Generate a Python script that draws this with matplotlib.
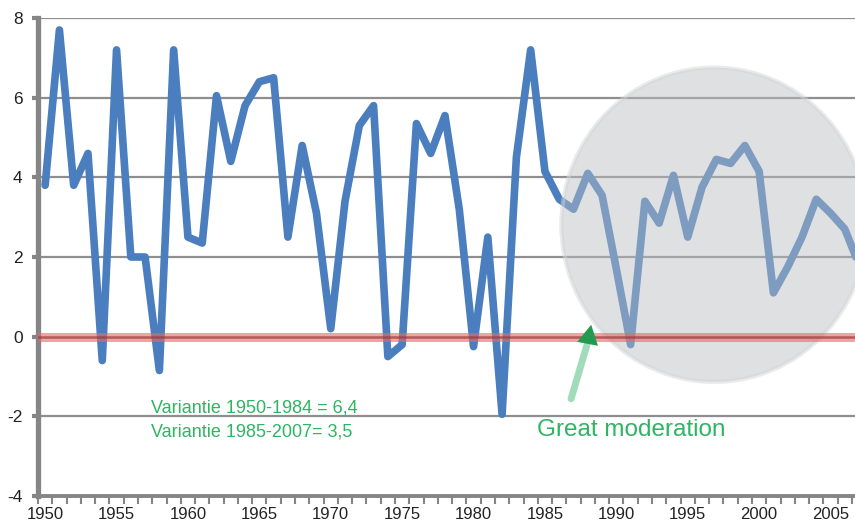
import numpy as np
import matplotlib
matplotlib.use("Agg")
import matplotlib.pyplot as plt
from matplotlib.patches import Ellipse
from matplotlib.ticker import FixedLocator

plt.rcParams['font.family'] = ['Liberation Sans', 'DejaVu Sans']

years = np.arange(1950, 2008)
growth = [3.8, 7.7, 3.8, 4.6, -0.6, 7.2, 2.0, 2.0, -0.85, 7.2,
          2.5, 2.35, 6.05, 4.4, 5.8, 6.4, 6.5, 2.5, 4.8, 3.1,
          0.2, 3.4, 5.3, 5.8, -0.5, -0.2, 5.35, 4.6, 5.55, 3.2,
          -0.25, 2.5, -1.95, 4.5, 7.2, 4.15, 3.45, 3.2, 4.1, 3.55,
          1.7, -0.2, 3.4, 2.85, 4.05, 2.5, 3.75, 4.45, 4.35, 4.8,
          4.15, 1.1, 1.75, 2.5, 3.45, 3.1, 2.7, 1.8]
label_years = [1950, 1955, 1960, 1965, 1970, 1975, 1980, 1985, 1990, 1995, 2000, 2005]
note1 = "Variantie 1950-1984 = 6,4"
note2 = "Variantie 1985-2007= 3,5"
note3 = "Great moderation"

blue = '#4a7ebf'
green = '#2db562'
grey = '#858585'

fig = plt.figure(figsize=(8.55, 5.22), dpi=100)
ax = fig.add_axes([38/855, 26/522, 1 - 38/855, 478/522])

ax.plot(years, growth, color=blue, lw=5.5, solid_joinstyle='round',
        solid_capstyle='round', zorder=2)

# grey circle over the moderation period
circ = Ellipse((1996.85, 2.81), 21.4, 7.89, facecolor=(0.73, 0.745, 0.76, 0.47),
               edgecolor=(0.84, 0.84, 0.84, 0.5), lw=3, zorder=3)
ax.add_patch(circ)

# red zero line
ax.axhline(0, color='#e06a6a', alpha=0.6, lw=6.5, zorder=4)
ax.axhline(0, color='#9a3a3a', alpha=0.7, lw=1.8, zorder=4)

# arrow
ax.annotate('', xy=(1987.95, -0.2), xytext=(1986.83, -1.56),
            arrowprops=dict(arrowstyle='-', color='#a0dcb9', lw=5,
                            shrinkA=0, shrinkB=0), zorder=5)
ax.annotate('', xy=(1988.24, 0.30), xytext=(1987.95, -0.25),
            arrowprops=dict(arrowstyle='-|>,head_length=0.7,head_width=0.38',
                            color='#239a52', lw=0, mutation_scale=20,
                            shrinkA=0, shrinkB=0), zorder=5)

ax.text(1957.42, -1.91, note1, color=green, fontsize=13, va='baseline', zorder=5)
ax.text(1957.42, -2.51, note2, color=green, fontsize=13, va='baseline', zorder=5)
ax.text(1984.45, -2.49, note3, color=green, fontsize=17.5, va='baseline', zorder=5)

ax.set_xlim(1949.5, 1949.5 + 817/14.28)
ax.set_ylim(-4, 8)

ax.set_yticks(np.arange(-4, 9, 2))
ax.set_yticklabels([str(v) for v in range(-4, 9, 2)])
for v in [8, 6, 4, 2, -2]:
    ax.axhline(v, color='#8e8e8e', lw=1.6, zorder=1)

ax.xaxis.set_major_locator(FixedLocator(label_years))
ax.set_xticklabels([str(y) for y in label_years])
ax.xaxis.set_minor_locator(FixedLocator(np.arange(1949.5, 2008, 1)))
ax.tick_params(axis='x', which='major', length=0, labelsize=12, pad=8, colors='#222222')
ax.tick_params(axis='x', which='minor', length=6, width=1.5, color=grey)
ax.tick_params(axis='y', length=4, width=3, color=grey, labelsize=12.5, pad=7,
               labelcolor='#222222')

for s in ['top', 'right']:
    ax.spines[s].set_visible(False)
ax.spines['left'].set_color(grey)
ax.spines['left'].set_linewidth(3.8)
ax.spines['bottom'].set_color(grey)
ax.spines['bottom'].set_linewidth(2.8)

fig.savefig("out.png", dpi=100)
